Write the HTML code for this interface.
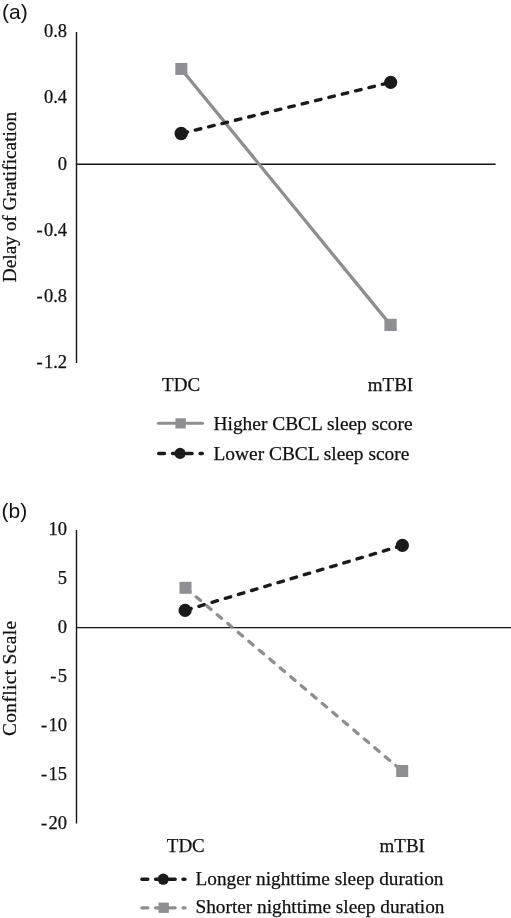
<!DOCTYPE html>
<html><head><meta charset="utf-8">
<style>
html,body{margin:0;padding:0;background:#fff;}
body{width:511px;height:918px;overflow:hidden;}
svg{display:block;will-change:transform;}
text{font-variant-ligatures:none;font-feature-settings:"liga" 0,"clig" 0;}
.s{font-family:"Liberation Serif",serif;fill:#111;stroke:#111;stroke-width:0.25px;}
.ss{font-family:"Liberation Sans",sans-serif;fill:#111;}
</style></head>
<body>
<svg width="511" height="918" viewBox="0 0 511 918">
<!-- ===== Panel (a) ===== -->
<text class="ss" x="2" y="18.9" font-size="21">(a)</text>
<g class="s" font-size="18.5" text-anchor="end">
<text x="67" y="36.9">0.8</text>
<text x="67" y="103.2">0.4</text>
<text x="67" y="169.5">0</text>
<text x="67" y="235.8">-<tspan dx="1.3">0.4</tspan></text>
<text x="67" y="302.1">-<tspan dx="1.3">0.8</tspan></text>
<text x="67" y="368.4">-<tspan dx="1.3">1.2</tspan></text>
</g>
<line x1="76.5" y1="32" x2="76.5" y2="363" stroke="#151515" stroke-width="1.4"/>
<line x1="76.5" y1="164.3" x2="495.6" y2="164.3" stroke="#151515" stroke-width="1.4"/>
<text class="s" font-size="19.3" transform="translate(16.2,197) rotate(-90)" text-anchor="middle">Delay of Gratification</text>
<!-- lines -->
<line x1="181.2" y1="69" x2="390.5" y2="324.9" stroke="#8e8e8e" stroke-width="3.3"/>
<line x1="181.2" y1="133.5" x2="390.7" y2="82.3" stroke="#1a1a1a" stroke-width="3.4" stroke-linecap="round" stroke-dasharray="5.6 8.15" stroke-dashoffset="-0.76"/>
<rect x="175.35" y="62.95" width="12" height="12" fill="#8f8f93"/>
<rect x="384.4" y="318.8" width="12.3" height="12.2" fill="#8f8f93"/>
<circle cx="181.2" cy="133.5" r="6.7" fill="#1a1a1a"/>
<circle cx="390.7" cy="82.3" r="6.6" fill="#1a1a1a"/>
<g class="s" font-size="19" text-anchor="middle">
<text x="181.1" y="390.5">TDC</text>
<text x="390.5" y="390.5">mTBI</text>
</g>
<!-- legend a -->
<line x1="158.5" y1="423.3" x2="202.5" y2="423.3" stroke="#8e8e8e" stroke-width="3.1" stroke-linecap="round"/>
<rect x="175.4" y="418.3" width="10.4" height="10.2" fill="#8f8f93"/>
<line x1="158.7" y1="453.5" x2="202.3" y2="453.5" stroke="#1a1a1a" stroke-width="3.4" stroke-linecap="round" stroke-dasharray="5.8 8.0"/>
<circle cx="180.1" cy="453.4" r="5.6" fill="#1a1a1a"/>
<g class="s" font-size="19.4">
<text x="213.5" y="429.6">Higher CBCL sleep score</text>
<text x="213.5" y="459.8">Lower CBCL sleep score</text>
</g>
<!-- ===== Panel (b) ===== -->
<text class="ss" x="1.5" y="518" font-size="21">(b)</text>
<g class="s" font-size="18.5" text-anchor="end">
<text x="67" y="534.6">10</text>
<text x="67" y="583.7">5</text>
<text x="67" y="632.8">0</text>
<text x="67" y="681.8">-<tspan dx="1.3">5</tspan></text>
<text x="67" y="730.9">-<tspan dx="1.3">10</tspan></text>
<text x="67" y="780">-<tspan dx="1.3">15</tspan></text>
<text x="67" y="829.1">-<tspan dx="1.3">20</tspan></text>
</g>
<line x1="76.5" y1="530" x2="76.5" y2="823.6" stroke="#151515" stroke-width="1.4"/>
<line x1="76.5" y1="627.6" x2="511" y2="627.6" stroke="#151515" stroke-width="1.4"/>
<text class="s" font-size="19.4" transform="translate(16,678.5) rotate(-90)" text-anchor="middle" textLength="115" lengthAdjust="spacing">Conflict Scale</text>
<line x1="185.1" y1="610.4" x2="402.4" y2="545.4" stroke="#1a1a1a" stroke-width="3.4" stroke-linecap="round" stroke-dasharray="5.6 8.15" stroke-dashoffset="-0.68"/>
<line x1="185.4" y1="587.7" x2="402.2" y2="771" stroke="#8e8e8e" stroke-width="3.3" stroke-linecap="round" stroke-dasharray="5.6 8.15" stroke-dashoffset="-0.51"/>
<rect x="179.5" y="581.8" width="12" height="12" fill="#8f8f93"/>
<rect x="396.2" y="765" width="12" height="12" fill="#8f8f93"/>
<circle cx="185.1" cy="610.4" r="6.6" fill="#1a1a1a"/>
<circle cx="402.4" cy="545.4" r="6.6" fill="#1a1a1a"/>
<g class="s" font-size="19" text-anchor="middle">
<text x="185.8" y="851.5">TDC</text>
<text x="402.2" y="852.3">mTBI</text>
</g>
<!-- legend b -->
<line x1="141.9" y1="879.2" x2="185" y2="879.2" stroke="#1a1a1a" stroke-width="3.4" stroke-linecap="round" stroke-dasharray="5.9 7.8"/>
<circle cx="163.3" cy="879.2" r="5.6" fill="#1a1a1a"/>
<line x1="141.9" y1="907.8" x2="185" y2="907.8" stroke="#8e8e8e" stroke-width="3.3" stroke-linecap="round" stroke-dasharray="5.9 7.8"/>
<rect x="158.5" y="902.6" width="10.4" height="10.3" fill="#8f8f93"/>
<g class="s" font-size="19.3">
<text x="195.5" y="885.2">Longer nighttime sleep duration</text>
<text x="195.5" y="913.4">Shorter nighttime sleep duration</text>
</g>
</svg>
</body></html>
